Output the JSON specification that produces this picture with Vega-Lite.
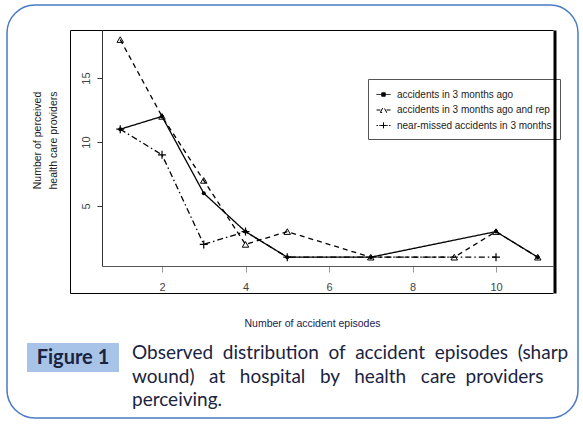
{
  "$schema": "https://vega.github.io/schema/vega-lite/v6.json",
  "width": 571,
  "height": 413,
  "autosize": {"type": "none"},
  "padding": {"left": 7, "top": 5, "right": 5, "bottom": 8},
  "background": "white",
  "config": {
    "view": {"stroke": "#4a7bc4", "strokeWidth": 1.5, "cornerRadius": 28},
    "font": "Arial, Liberation Sans, sans-serif"
  },
  "datasets": {
    "accidents": [
      {"series": "accidents in 3 months ago", "episodes": 1, "providers": 11},
      {"series": "accidents in 3 months ago", "episodes": 2, "providers": 12},
      {"series": "accidents in 3 months ago", "episodes": 3, "providers": 6},
      {"series": "accidents in 3 months ago", "episodes": 4, "providers": 3},
      {"series": "accidents in 3 months ago", "episodes": 5, "providers": 1},
      {"series": "accidents in 3 months ago", "episodes": 7, "providers": 1},
      {"series": "accidents in 3 months ago", "episodes": 10, "providers": 3},
      {"series": "accidents in 3 months ago", "episodes": 11, "providers": 1},
      {"series": "accidents in 3 months ago and reported", "episodes": 1, "providers": 18},
      {"series": "accidents in 3 months ago and reported", "episodes": 2, "providers": 12},
      {"series": "accidents in 3 months ago and reported", "episodes": 3, "providers": 7},
      {"series": "accidents in 3 months ago and reported", "episodes": 4, "providers": 2},
      {"series": "accidents in 3 months ago and reported", "episodes": 5, "providers": 3},
      {"series": "accidents in 3 months ago and reported", "episodes": 7, "providers": 1},
      {"series": "accidents in 3 months ago and reported", "episodes": 9, "providers": 1},
      {"series": "accidents in 3 months ago and reported", "episodes": 10, "providers": 3},
      {"series": "accidents in 3 months ago and reported", "episodes": 11, "providers": 1},
      {"series": "near-missed accidents in 3 months ago", "episodes": 1, "providers": 11},
      {"series": "near-missed accidents in 3 months ago", "episodes": 2, "providers": 9},
      {"series": "near-missed accidents in 3 months ago", "episodes": 3, "providers": 2},
      {"series": "near-missed accidents in 3 months ago", "episodes": 4, "providers": 3},
      {"series": "near-missed accidents in 3 months ago", "episodes": 5, "providers": 1},
      {"series": "near-missed accidents in 3 months ago", "episodes": 10, "providers": 1}
    ],
    "caption": [
      {"part": "tag", "line": 1, "text": "Figure 1"},
      {"part": "body", "line": 1, "text": "Observed\u00a0 distribution\u00a0 of\u00a0 accident\u00a0 episodes\u00a0 (sharp"},
      {"part": "body", "line": 2, "text": "wound)\u00a0\u00a0 at\u00a0\u00a0 hospital\u00a0\u00a0 by\u00a0\u00a0 health\u00a0\u00a0 care\u00a0 providers"},
      {"part": "body", "line": 3, "text": "perceiving."}
    ]
  },
  "layer": [
    {
      "data": {"name": "accidents"},
      "mark": {"type": "line", "color": "black", "strokeWidth": 1.3},
      "encoding": {
        "x": {
          "field": "episodes", "type": "quantitative",
          "scale": {"domain": [0.563, 11.365], "range": [95, 546], "nice": false, "zero": false},
          "axis": {
            "orient": "bottom", "offset": -152, "values": [2, 4, 6, 8, 10], "grid": false,
            "domainColor": "#555", "tickColor": "#999", "tickSize": 6, "labelColor": "#444",
            "labelFont": "Arial, Liberation Sans, sans-serif",
            "labelFontSize": 11, "labelPadding": 9, "labelFlush": false,
            "title": "Number of accident episodes", "titleFont": "Arial, Liberation Sans, sans-serif", "titleFontSize": 10.5,
            "titleFontWeight": "normal", "titleColor": "#1a1a4e", "titleX": 305, "titleY": 57,
            "titleAlign": "center", "titleBaseline": "middle"
          }
        },
        "y": {
          "field": "providers", "type": "quantitative",
          "scale": {"domain": [0.3125, 18.75], "range": [261, 25], "nice": false, "zero": false},
          "axis": {
            "orient": "left", "offset": -95, "values": [5, 10, 15], "grid": false,
            "domainColor": "#333", "tickColor": "#333", "tickSize": 5, "labelColor": "#444",
            "labelFont": "Arial, Liberation Sans, sans-serif",
            "labelFontSize": 11, "labelAngle": 270, "labelAlign": "center", "labelBaseline": "bottom", "labelPadding": 6,
            "title": ["Number of perceived", "health care providers"],
            "titleFont": "Arial, Liberation Sans, sans-serif", "titleFontSize": 10.5, "titleFontWeight": "normal",
            "titleColor": "#222", "titleAngle": 270, "titleAlign": "center", "titleBaseline": "bottom",
            "titleX": -60, "titleY": 135, "titleLineHeight": 16
          }
        },
        "strokeDash": {
          "field": "series", "type": "nominal",
          "scale": {
            "domain": ["accidents in 3 months ago", "accidents in 3 months ago and reported", "near-missed accidents in 3 months ago"],
            "range": [[1, 0], [5, 4], [6, 3, 1.5, 3]]
          },
          "legend": {
            "orient": "none", "legendX": 361, "legendY": 74, "title": null, "direction": "vertical", "zindex": 0,
            "strokeColor": "#555", "fillColor": "white", "padding": 8, "rowPadding": 2.5,
            "labelFont": "Arial, Liberation Sans, sans-serif", "labelFontSize": 10, "labelColor": "#222", "labelOffset": 6, "labelLimit": 157,
            "symbolSize": 196, "symbolStrokeWidth": 1, "symbolStrokeColor": "black",
            "encode": {
              "symbols": {"update": {
                "shape": {"signal": "datum.value === 'accidents in 3 months ago' ? 'M-1,0H1M-0.25,-0.25H0.25V0.25H-0.25Z' : datum.value === 'accidents in 3 months ago and reported' ? 'M-1,0H-0.45M0.45,0H1M-0.45,0.35L0,-0.5L0.45,0.35Z' : 'M-1,0H-0.8M-0.6,0H-0.4M-0.4,0H0.4M0,-0.45V0.45M0.4,0H0.6M0.8,0H1'"},
                "fill": {"signal": "datum.value === 'accidents in 3 months ago' ? 'black' : 'transparent'"},
                "strokeDash": {"value": [1, 0]},
                "stroke": {"value": "black"}
              }},
              "labels": {"update": {"ellipsis": {"value": "\u200b"}}}
            }
          }
        }
      }
    },
    {
      "data": {"name": "accidents"},
      "transform": [{"filter": {"field": "series", "equal": "accidents in 3 months ago and reported"}}],
      "mark": {"type": "point", "shape": "triangle-up", "size": 42, "filled": false, "color": "black", "strokeWidth": 1, "opacity": 1},
      "encoding": {
        "x": {
          "field": "episodes", "type": "quantitative",
          "scale": {"domain": [-0.2035, 11.365], "range": [63, 546], "nice": false, "zero": false},
          "axis": {"orient": "top", "offset": -25, "ticks": false, "labels": false, "title": null, "grid": false, "domainColor": "black", "domainWidth": 1}
        },
        "y": {
          "field": "providers", "type": "quantitative",
          "scale": {"domain": [-1.797, 18.75], "range": [288, 25], "nice": false, "zero": false},
          "axis": {"orient": "left", "offset": -63, "ticks": false, "labels": false, "title": null, "grid": false, "domainColor": "black", "domainWidth": 1}
        }
      }
    },
    {
      "data": {"name": "accidents"},
      "encoding": {
        "x": {
          "field": "episodes", "type": "quantitative",
          "scale": {"domain": [-0.2035, 11.365], "range": [63, 546], "nice": false, "zero": false},
          "axis": {"orient": "bottom", "offset": -125, "ticks": false, "labels": false, "title": null, "grid": false, "domainColor": "black", "domainWidth": 1}
        },
        "y": {
          "field": "providers", "type": "quantitative",
          "scale": {"domain": [-1.797, 18.75], "range": [288, 25], "nice": false, "zero": false},
          "axis": {"orient": "right", "offset": -23.5, "ticks": false, "labels": false, "title": null, "grid": false, "domainColor": "black", "domainWidth": 3, "zindex": 2}
        }
      },
      "layer": [
        {
          "transform": [{"filter": {"field": "series", "equal": "accidents in 3 months ago"}}],
          "mark": {"type": "point", "shape": "circle", "size": 16, "filled": true, "color": "black", "opacity": 1}
        },
        {
          "transform": [{"filter": {"field": "series", "equal": "near-missed accidents in 3 months ago"}}],
          "mark": {"type": "point", "shape": "M-1,0H1M0,-1V1", "size": 64, "filled": false, "color": "black", "strokeWidth": 1.2, "opacity": 1}
        }
      ]
    },
    {
      "data": {"name": "caption"},
      "encoding": {
        "x": {
          "field": "part", "type": "nominal",
          "scale": {"type": "band", "domain": ["tag", "body"], "range": [20, 217], "paddingInner": 0.1238, "paddingOuter": 0},
          "axis": null
        }
      },
      "layer": [
        {
          "transform": [{"filter": {"field": "part", "equal": "tag"}}],
          "mark": {"type": "rect", "fill": "#a7c4e8"},
          "encoding": {
            "y": {"field": "part", "type": "nominal", "scale": {"type": "band", "domain": ["tag"], "range": [338, 367], "paddingInner": 0, "paddingOuter": 0}, "axis": null}
          }
        },
        {
          "transform": [{"filter": {"field": "part", "equal": "tag"}}],
          "mark": {"type": "text", "font": "Lato", "fontWeight": "bold", "fontSize": 20, "color": "#1a2340", "align": "center", "baseline": "middle"},
          "encoding": {
            "y": {"field": "part", "type": "nominal", "scale": {"type": "band", "domain": ["tag"], "range": [338, 367], "paddingInner": 0, "paddingOuter": 0}, "axis": null},
            "text": {"field": "text"}
          }
        },
        {
          "transform": [{"filter": {"field": "part", "equal": "body"}}],
          "mark": {"type": "text", "font": "Lato", "fontSize": 19, "color": "#1a2340", "align": "left", "baseline": "middle"},
          "encoding": {
            "x": {
              "field": "part", "type": "nominal", "bandPosition": 0,
              "scale": {"type": "band", "domain": ["tag", "body"], "range": [20, 217], "paddingInner": 0.1238, "paddingOuter": 0},
              "axis": null
            },
            "y": {"field": "line", "type": "ordinal", "scale": {"type": "point", "domain": [1, 2, 3], "range": [348, 395], "padding": 0}, "axis": null},
            "text": {"field": "text"}
          }
        }
      ],
      "resolve": {"scale": {"y": "independent"}}
    }
  ],
  "resolve": {"scale": {"x": "independent", "y": "independent"}}
}
